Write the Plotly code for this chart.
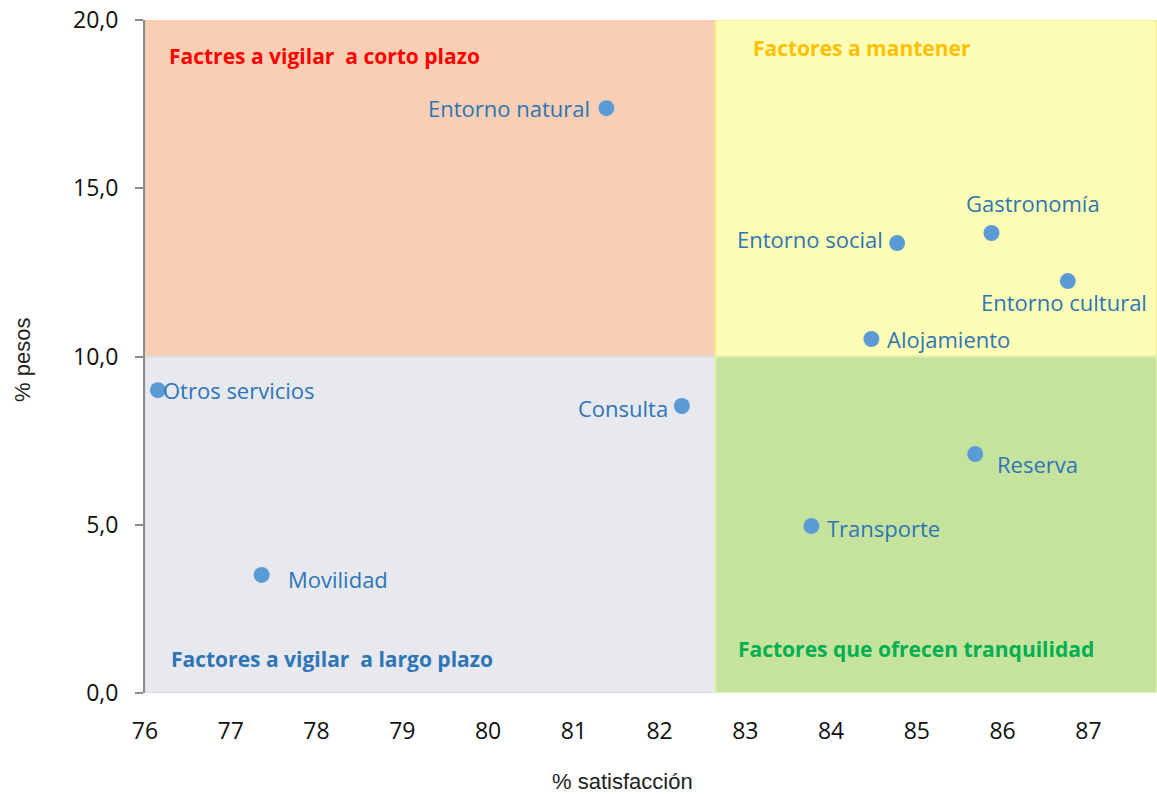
import plotly.graph_objects as go

# ---- data ----
factores = ["Entorno natural", "Entorno social", "Gastronomía", "Entorno cultural",
            "Alojamiento", "Otros servicios", "Consulta", "Reserva", "Transporte", "Movilidad"]
satisfaccion = [81.38, 84.77, 85.87, 86.76, 84.47, 76.15, 82.26, 85.68, 83.77, 77.36]
pesos = [17.38, 13.37, 13.67, 12.24, 10.52, 9.00, 8.53, 7.10, 4.96, 3.51]

x_ticks = list(range(76, 88))
y_ticks = [0, 5, 10, 15, 20]

quad_names = ["Factres a vigilar  a corto plazo", "Factores a mantener",
              "Factores a vigilar  a largo plazo", "Factores que ofrecen tranquilidad"]

# ---- layout helpers (positions / styles) ----
X_MIN, X_MAX, X_SPLIT = 76, 87.8, 82.65
Y_MIN, Y_MAX, Y_SPLIT = 0, 20, 10

# label placement per point: (xanchor, yanchor, xshift, yshift)
label_pos = [
    ("right", "middle", -14, 0),
    ("right", "middle", -12, 4),
    ("center", "middle", 42, 30),
    ("center", "middle", -4, -21),
    ("left", "middle", 14, 0),
    ("left", "middle", 3, 0),
    ("right", "middle", -12, -2),
    ("left", "middle", 20, -10),
    ("left", "middle", 14, -2),
    ("left", "middle", 24, -4),
]

quad_rects = [
    (X_MIN, X_SPLIT, Y_SPLIT, Y_MAX, "#F8CFB4", "#F3C9AE"),
    (X_SPLIT, X_MAX, Y_SPLIT, Y_MAX, "#FDFDB5", "#F0F08E"),
    (X_MIN, X_SPLIT, Y_MIN, Y_SPLIT, "#E7E9EE", "#DCDDE0"),
    (X_SPLIT, X_MAX, Y_MIN, Y_SPLIT, "#C5E39D", "#E0F0B0"),
]
quad_label_xy = [(76.26, 18.93), (83.07, 19.17), (76.28, 1.01), (82.89, 1.31)]
quad_colors = ["#FF0000", "#FFC000", "#2E75B6", "#00B050"]

FONT = "Open Sans, Liberation Sans, sans-serif"
NARROW = "Liberation Sans Narrow, Liberation Sans, sans-serif"

W, H = 1157, 794
ML, MR, MT, MB = 145, 0, 20, 101
pw, ph = W - ML - MR, H - MT - MB

fig = go.Figure()

shapes = []
for x0, x1, y0, y1, fill, line in quad_rects:
    shapes.append(dict(type="rect", xref="x", yref="y", x0=x0, x1=x1, y0=y0, y1=y1,
                       fillcolor=fill, line=dict(color=line, width=2), layer="below"))

fig.add_trace(go.Scatter(
    x=satisfaccion, y=pesos, mode="markers",
    marker=dict(size=16, color="#5B9BD5"),
    text=factores, hoverinfo="text", showlegend=False,
))

annotations = []
for name, xv, yv, (xa, ya, xs, ys) in zip(factores, satisfaccion, pesos, label_pos):
    annotations.append(dict(x=xv, y=yv, xref="x", yref="y", text=name, showarrow=False,
                            xanchor=xa, yanchor=ya, xshift=xs, yshift=ys,
                            font=dict(family=FONT, size=22, color="#2E75B6")))
for name, (qx, qy), col in zip(quad_names, quad_label_xy, quad_colors):
    annotations.append(dict(x=qx, y=qy, xref="x", yref="y", text="<b>" + name + "</b>",
                            showarrow=False, xanchor="left", yanchor="middle",
                            font=dict(family=FONT, size=21, color=col)))

annotations.append(dict(xref="paper", yref="paper", x=(622 - ML) / pw, y=(H - MB - 781) / ph,
                        xanchor="center", yanchor="middle", text="% satisfacción",
                        showarrow=False, font=dict(family=NARROW, size=22, color="#222222")))
annotations.append(dict(xref="paper", yref="paper", x=(22 - ML) / pw, y=(H - MB - 360) / ph,
                        xanchor="center", yanchor="middle", text="% pesos", textangle=-90,
                        showarrow=False, font=dict(family=NARROW, size=22, color="#222222")))

fig.update_layout(
    width=W, height=H,
    margin=dict(l=ML, r=MR, t=MT, b=MB, pad=0),
    paper_bgcolor="white", plot_bgcolor="white",
    separators=",.",
    shapes=shapes, annotations=annotations,
    xaxis=dict(range=[X_MIN, X_MAX], tickvals=x_ticks, showgrid=False, zeroline=False,
               showline=False, ticks="", ticklabelstandoff=22,
               tickfont=dict(family=FONT, size=23, color="#111111")),
    yaxis=dict(range=[Y_MIN, Y_MAX], tickvals=y_ticks, tickformat=".1f", showgrid=False,
               zeroline=False, showline=True, linecolor="#8C8C8C", linewidth=2,
               ticks="outside", ticklen=8, tickcolor="#8C8C8C", tickwidth=2,
               ticklabelstandoff=12,
               tickfont=dict(family=FONT, size=23, color="#111111")),
)

fig.write_html("out.html", config={"displayModeBar": False},
               post_script="document.body.style.margin='0';document.body.style.overflow='hidden';")
